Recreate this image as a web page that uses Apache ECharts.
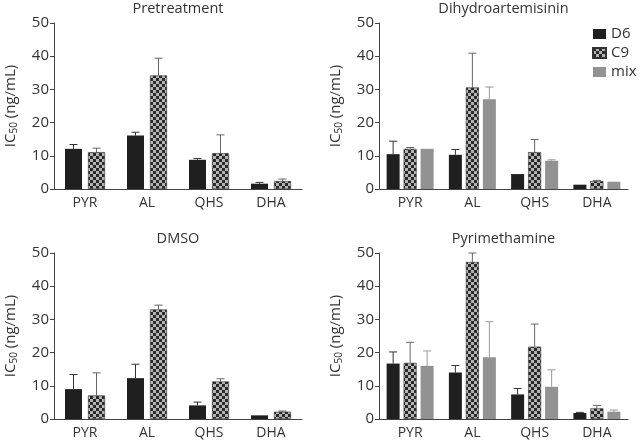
<!DOCTYPE html>
<html>
<head>
<meta charset="utf-8">
<script src="https://cdn.jsdelivr.net/npm/echarts@6/dist/echarts.min.js"></script>
<style>
  html, body { margin: 0; padding: 0; background: #fff; }
  #chart { width: 640px; height: 445px; }
</style>
</head>
<body>
<div id="chart"></div>
<script>
const categories = ["PYR", "AL", "QHS", "DHA"];

// Pretreatment
const preD6 = [12.1, 16.1, 8.8, 1.6];
const preD6Err = [1.3, 1.0, 0.4, 0.4];
const preC9 = [11.1, 34.2, 10.8, 2.4];
const preC9Err = [1.2, 5.2, 5.5, 0.6];

// Dihydroartemisinin
const dhaD6 = [10.5, 10.3, 4.5, 1.3];
const dhaD6Err = [3.9, 1.6, 0, 0];
const dhaC9 = [12.1, 30.6, 11.1, 2.4];
const dhaC9Err = [0.4, 10.3, 3.8, 0.2];
const dhaMix = [12.1, 27.0, 8.5, 2.2];
const dhaMixErr = [0, 3.7, 0.3, 0];

// DMSO
const dmsoD6 = [9.0, 12.3, 4.1, 1.1];
const dmsoD6Err = [4.4, 4.2, 1.0, 0];
const dmsoC9 = [7.1, 33.0, 11.3, 2.2];
const dmsoC9Err = [6.8, 1.3, 0.8, 0.2];

// Pyrimethamine
const pyrD6 = [16.7, 14.0, 7.4, 1.8];
const pyrD6Err = [3.5, 2.1, 1.8, 0.2];
const pyrC9 = [16.9, 47.3, 21.8, 3.2];
const pyrC9Err = [6.2, 2.7, 6.8, 0.9];
const pyrMix = [16.0, 18.6, 9.7, 2.2];
const pyrMixErr = [4.5, 10.7, 5.1, 0.5];

const titles = ["Pretreatment", "Dihydroartemisinin", "DMSO", "Pyrimethamine"];
const seriesNames = ["D6", "C9", "mix"];

const FONT = "Open Sans";
const TEXT = "#333";

// checkered pattern for C9
const pat = document.createElement("canvas");
pat.width = 6; pat.height = 6;
const pctx = pat.getContext("2d");
pctx.fillStyle = "#b4b4b4";
pctx.fillRect(0, 0, 6, 6);
pctx.fillStyle = "#2a2a2a";
pctx.fillRect(0, 0, 3, 3);
pctx.fillRect(3, 3, 3, 3);

const fills = {
  D6: "#1f1f1f",
  C9: { image: pat, repeat: "repeat" },
  mix: "#929292"
};
const errColors = { D6: "#333", C9: "#666", mix: "#999" };

const panels = [
  { title: titles[0], data: [preD6, preC9], err: [preD6Err, preC9Err], left: 54, top: 23, width: 248, bw: 17, gap: 6 },
  { title: titles[1], data: [dhaD6, dhaC9, dhaMix], err: [dhaD6Err, dhaC9Err, dhaMixErr], left: 379, top: 23, width: 249, bw: 13, gap: 4 },
  { title: titles[2], data: [dmsoD6, dmsoC9], err: [dmsoD6Err, dmsoC9Err], left: 54, top: 253, width: 248, bw: 17, gap: 6 },
  { title: titles[3], data: [pyrD6, pyrC9, pyrMix], err: [pyrD6Err, pyrC9Err, pyrMixErr], left: 379, top: 253, width: 249, bw: 13, gap: 4 }
];

const grid = [], xAxis = [], yAxis = [], title = [], series = [];

panels.forEach((p, gi) => {
  grid.push({ left: p.left, top: p.top, width: p.width, height: 166 });
  title.push({
    text: p.title,
    left: p.left + p.width / 2,
    top: p.top - 22,
    padding: 0,
    textAlign: "center",
    textStyle: { fontFamily: FONT, fontSize: 14.5, fontWeight: "normal", color: TEXT }
  });
  xAxis.push({
    type: "category",
    gridIndex: gi,
    data: categories,
    axisLine: { lineStyle: { color: "#444", width: 1 } },
    axisTick: { alignWithLabel: true, length: 4, lineStyle: { color: "#444" } },
    axisLabel: { fontFamily: FONT, fontSize: 14, color: TEXT, margin: 7 }
  });
  yAxis.push({
    type: "value",
    gridIndex: gi,
    min: 0, max: 50, interval: 10,
    name: "{a|IC}{s|50}{a| (ng/mL)}",
    nameLocation: "middle",
    nameGap: 33,
    nameTextStyle: {
      fontFamily: FONT,
      color: TEXT,
      rich: {
        a: { fontFamily: FONT, fontSize: 15, color: TEXT, lineHeight: 20 },
        s: { fontFamily: FONT, fontSize: 10, color: TEXT, lineHeight: 20, padding: [7, 0, 0, 0] }
      }
    },
    axisLine: { show: true, lineStyle: { color: "#444", width: 1 } },
    axisTick: { show: true, length: 4, lineStyle: { color: "#444" } },
    axisLabel: { fontFamily: FONT, fontSize: 15, color: TEXT, margin: 5 },
    splitLine: { show: false }
  });

  const n = p.data.length;
  p.data.forEach((vals, si) => {
    const name = seriesNames[si];
    series.push({
      name: name,
      type: "bar",
      xAxisIndex: gi,
      yAxisIndex: gi,
      data: vals,
      barWidth: p.bw,
      barGap: (p.gap / p.bw * 100) + "%",
      itemStyle: { color: fills[name], borderColor: si === 1 ? "#333" : null, borderWidth: si === 1 ? 0.6 : 0 },
      z: 3
    });
  });

  p.data.forEach((vals, si) => {
    const name = seriesNames[si];
    const offset = (si - (n - 1) / 2) * (p.bw + p.gap);
    series.push({
      type: "custom",
      xAxisIndex: gi,
      yAxisIndex: gi,
      data: vals.map((v, i) => [i, v, p.err[si][i]]),
      z: 2,
      silent: true,
      renderItem: function (params, api) {
        const e = api.value(2);
        if (!e) return null;
        const m = api.value(1);
        const base = api.coord([api.value(0), m]);
        const top = api.coord([api.value(0), m + e]);
        const x = base[0] + offset;
        const st = { stroke: errColors[name], lineWidth: 1 };
        return {
          type: "group",
          children: [
            { type: "line", shape: { x1: x, y1: base[1], x2: x, y2: top[1] }, style: st },
            { type: "line", shape: { x1: x - 4, y1: top[1], x2: x + 4, y2: top[1] }, style: st }
          ]
        };
      }
    });
  });
});

const chart = echarts.init(document.getElementById("chart"));
chart.setOption({
  animation: false,
  backgroundColor: "#fff",
  title: title,
  legend: {
    data: seriesNames,
    orient: "vertical",
    left: 592,
    top: 26,
    padding: 0,
    itemWidth: 13,
    itemHeight: 10,
    itemGap: 3,
    icon: "rect",
    textStyle: { fontFamily: FONT, fontSize: 15, color: TEXT, lineHeight: 16 }
  },
  grid: grid,
  xAxis: xAxis,
  yAxis: yAxis,
  series: series
});
</script>
</body>
</html>
